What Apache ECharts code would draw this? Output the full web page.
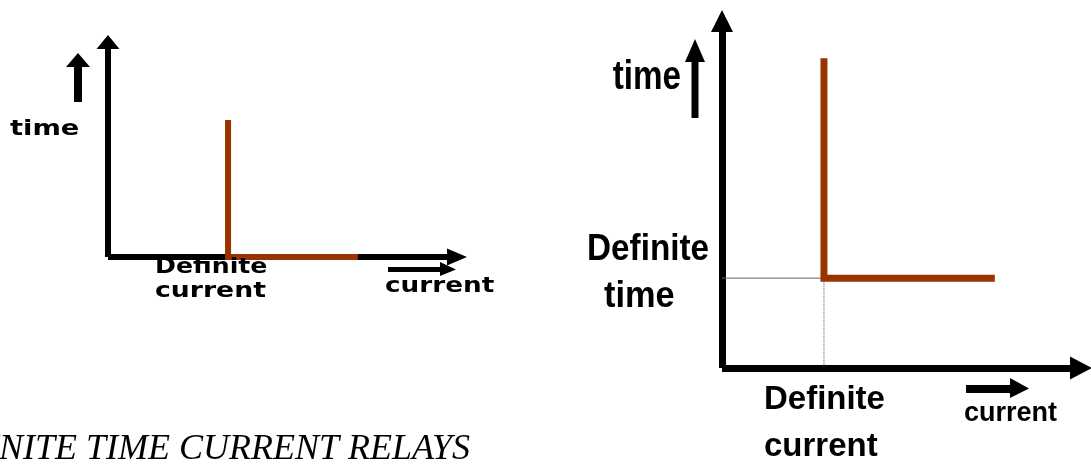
<!DOCTYPE html>
<html>
<head>
<meta charset="utf-8">
<script src="https://cdn.jsdelivr.net/npm/echarts@6/dist/echarts.min.js"></script>
<style>
html,body{margin:0;padding:0;background:#fff;}
#c{width:1091px;height:466px;}
</style>
</head>
<body>
<div id="c"></div>
<script>
// ---- data (normalized 0..100 axes) ----
var leftDefiniteCurrent = 34.4;
var leftCurveTop = 63.7;
var leftCurveEnd = 71.6;
var leftCurveX = [leftDefiniteCurrent, leftDefiniteCurrent, leftCurveEnd];
var leftCurveY = [leftCurveTop, 0, 0];

var rightDefiniteCurrent = 28.4;
var rightDefiniteTime = 25.9;
var rightCurveTop = 89.3;
var rightCurveEnd = 76.0;
var rightCurveX = [rightDefiniteCurrent, rightDefiniteCurrent, rightCurveEnd];
var rightCurveY = [rightCurveTop, rightDefiniteTime, rightDefiniteTime];

var refHX = [0, rightDefiniteCurrent];
var refHY = [rightDefiniteTime, rightDefiniteTime];
var refVX = [rightDefiniteCurrent, rightDefiniteCurrent];
var refVY = [rightDefiniteTime, 0];

var labelTime = 'time';
var labelDefinite = 'Definite';
var labelCurrent = 'current';
var caption = 'DEFINITE TIME CURRENT RELAYS';

function zip(xs, ys){ return xs.map(function(x,i){ return [x, ys[i]]; }); }

var RED = '#993300';

function axisDef(gridIndex, w, symW, symH){
  return {
    type: 'value', gridIndex: gridIndex, min: 0, max: 100,
    axisLine: { show: true, onZero: false, symbol: ['none','triangle'], symbolSize: [symW, symH],
      lineStyle: { color: '#000', width: w, cap: 'butt' } },
    axisTick: { show: false }, axisLabel: { show: false }, splitLine: { show: false }
  };
}

var chart = echarts.init(document.getElementById('c'), null, {renderer: 'canvas'});

var leftFont = 'bold 21px "DejaVu Sans"';
var rightFontFamily = '"Liberation Sans", Arial, sans-serif';

function txt(text, x, y, font, sx, align, valign){
  return { type: 'text', x: x, y: y, scaleX: sx, z: 100,
    style: { text: text, font: font, fill: '#000',
      textAlign: align, align: align, textVerticalAlign: valign, verticalAlign: valign } };
}
function rect(x, y, w, h){
  return { type: 'rect', z: 100, shape: {x: x, y: y, width: w, height: h}, style: {fill: '#000'} };
}
function poly(pts){
  return { type: 'polygon', z: 100, shape: {points: pts}, style: {fill: '#000'} };
}

chart.setOption({
  animation: false,
  backgroundColor: '#fff',
  grid: [
    { left: 108, top: 42, width: 349, height: 215 },
    { left: 722, top: 21, width: 359, height: 347 }
  ],
  xAxis: [ axisDef(0, 6, 17, 20), axisDef(1, 7, 23, 22) ],
  yAxis: [ axisDef(0, 6, 23, 14), axisDef(1, 7, 22, 22) ],
  series: [
    { type: 'line', xAxisIndex: 1, yAxisIndex: 1, data: zip(refHX, refHY), showSymbol: false, clip: false, z: 3,
      lineStyle: { color: '#666', width: 1, type: 'solid' } },
    { type: 'line', xAxisIndex: 1, yAxisIndex: 1, data: zip(refVX, refVY), showSymbol: false, clip: false, z: 3,
      lineStyle: { color: '#555', width: 1, type: [1, 1] } },
    { type: 'line', xAxisIndex: 0, yAxisIndex: 0, data: zip(leftCurveX, leftCurveY), showSymbol: false, clip: false, z: 5,
      lineStyle: { color: RED, width: 6, join: 'miter', cap: 'butt' } },
    { type: 'line', xAxisIndex: 1, yAxisIndex: 1, data: zip(rightCurveX, rightCurveY), showSymbol: false, clip: false, z: 5,
      lineStyle: { color: RED, width: 7, join: 'miter', cap: 'butt' } }
  ],
  graphic: [
    // left chart annotations
    rect(74, 64, 8, 38), poly([[66,67],[90,67],[78,53]]),
    txt(labelTime, 10, 130, leftFont, 1.3, 'left', 'middle'),
    txt(labelDefinite, 155, 268, leftFont, 1.2, 'left', 'middle'),
    txt(labelCurrent, 155, 292, leftFont, 1.27, 'left', 'middle'),
    rect(388, 267, 54, 5), poly([[440,262],[440,276],[456,269.5]]),
    txt(labelCurrent, 385, 287, leftFont, 1.25, 'left', 'middle'),
    // right chart annotations
    rect(691.5, 60, 7, 58), poly([[685,62],[705,62],[695,39]]),
    txt(labelTime, 681, 78, 'bold 40px ' + rightFontFamily, 0.83, 'right', 'middle'),
    txt(labelDefinite, 587, 250, 'bold 37px ' + rightFontFamily, 0.9, 'left', 'middle'),
    txt(labelTime, 604, 297, 'bold 37px ' + rightFontFamily, 0.93, 'left', 'middle'),
    txt(labelDefinite, 764, 400, 'bold 34px ' + rightFontFamily, 0.97, 'left', 'middle'),
    txt(labelCurrent, 764, 447, 'bold 34px ' + rightFontFamily, 0.97, 'left', 'middle'),
    rect(966, 385, 46, 8), poly([[1010,378],[1010,398],[1029,388.5]]),
    txt(labelCurrent, 964, 414, 'bold 27px ' + rightFontFamily, 1.0, 'left', 'middle'),
    // caption
    txt(caption, 470, 450, 'italic 36px "Liberation Serif", "Times New Roman", serif', 1.0, 'right', 'middle')
  ]
});
</script>
</body>
</html>
